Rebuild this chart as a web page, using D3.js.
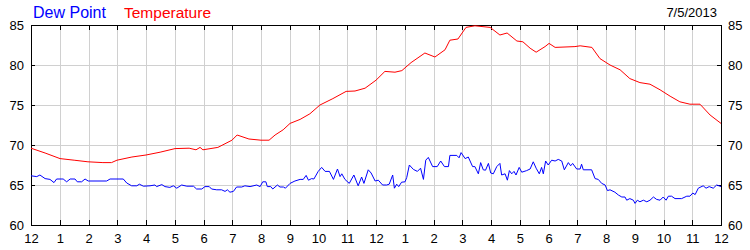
<!DOCTYPE html>
<html>
<head>
<meta charset="utf-8">
<script src="https://cdn.jsdelivr.net/npm/d3@7"></script>
<style>
  body { margin: 0; background: #fff; }
  svg text { font-family: "Liberation Sans", Arial, sans-serif; }
</style>
</head>
<body>
<div id="chart"></div>
<script>
// hours since midnight
const tempHours = [0, 0.49, 1.01, 1.5, 1.98, 2.5, 2.8, 2.99, 3.51, 4.0, 4.49, 5.01, 5.5, 5.74, 5.88, 5.98, 6.5, 6.99, 7.17, 7.58, 8.0, 8.28, 8.49, 8.77, 9.01, 9.36, 9.70, 10.05, 10.5, 10.96, 11.27, 11.62, 12.0, 12.31, 12.66, 12.9, 13.22, 13.7, 14.05, 14.4, 14.57, 14.85, 15.13, 15.44, 15.97, 16.31, 16.56, 16.9, 17.11, 17.36, 17.57, 17.88, 18.02, 18.23, 18.92, 19.1, 19.51, 19.79, 20.14, 20.49, 20.83, 21.18, 21.53, 21.88, 22.23, 22.57, 22.92, 23.27, 23.62, 24];
const tempValues = [69.6, 69.0, 68.3, 68.1, 67.9, 67.8, 67.8, 68.1, 68.5, 68.75, 69.1, 69.55, 69.6, 69.4, 69.7, 69.4, 69.7, 70.6, 71.25, 70.75, 70.6, 70.6, 71.25, 71.9, 72.7, 73.2, 73.9, 75.0, 75.8, 76.7, 76.75, 77.1, 78.1, 79.2, 79.1, 79.3, 80.3, 81.5, 81.0, 81.9, 83.1, 83.25, 84.7, 84.9, 84.7, 83.75, 84.0, 83.0, 82.9, 82.1, 81.6, 82.3, 82.7, 82.2, 82.3, 82.4, 82.2, 80.8, 80.0, 79.4, 78.3, 77.8, 77.6, 76.9, 76.1, 75.4, 75.1, 75.1, 73.75, 72.7];

const dewHours = [0, 0.2, 0.31, 0.49, 0.66, 0.8, 0.89, 1.12, 1.24, 1.36, 1.53, 1.61, 1.76, 1.88, 1.99, 2.63, 2.75, 3.21, 3.33, 3.5, 3.68, 3.77, 3.91, 4.14, 4.31, 4.37, 4.55, 4.66, 4.83, 4.95, 5.07, 5.24, 5.42, 5.65, 5.76, 5.94, 6.05, 6.2, 6.28, 6.46, 6.63, 6.75, 6.83, 6.92, 7.04, 7.15, 7.33, 7.44,
  7.62, 7.85, 7.97, 8.06, 8.17, 8.22, 8.34, 8.41, 8.57, 8.66, 8.78, 8.85, 9.01, 9.18, 9.36, 9.47, 9.57, 9.65, 9.76, 9.84, 9.99, 10.11, 10.23, 10.38, 10.52, 10.66, 10.75, 10.81, 10.92, 11.07, 11.23, 11.38, 11.5, 11.58, 11.73, 11.83, 11.97, 12.08, 12.23, 12.37, 12.46, 12.58, 12.64, 12.72, 12.79, 12.89, 13.01, 13.07, 13.16, 13.3, 13.44, 13.55, 13.65, 13.73, 13.82, 13.97, 14.13, 14.25, 14.38, 14.52, 14.57, 14.81, 14.89, 14.96, 15.1, 15.21, 15.36, 15.44, 15.56, 15.64, 15.73, 15.81, 15.91, 15.99, 16.08, 16.2,
  16.31, 16.37, 16.49, 16.57, 16.64, 16.72, 16.8, 16.87, 16.98, 17.07, 17.24, 17.36, 17.47, 17.57, 17.68, 17.76, 17.82, 17.9, 17.99, 18.11, 18.23, 18.34, 18.46, 18.55, 18.69, 18.77, 18.84, 18.98, 19.1, 19.15, 19.21, 19.5, 19.62, 19.73, 19.85, 19.97, 20.05, 20.14, 20.31, 20.43, 20.55, 20.66, 20.72, 20.83, 20.95, 21.01, 21.09, 21.18, 21.3, 21.42, 21.53, 21.65, 21.76, 21.88, 21.99, 22.09, 22.17, 22.28, 22.4, 22.63, 22.81, 22.92, 23.02, 23.1, 23.21, 23.38, 23.48, 23.59, 23.73, 23.85, 24];
const dewValues = [66.15, 66.05, 66.25, 65.8, 65.7, 65.3, 65.75, 65.75, 65.4, 65.75, 65.75, 65.4, 65.4, 65.75, 65.5, 65.5, 65.75, 65.75, 65.25, 64.9, 64.9, 65.1, 64.85, 64.9, 65.0, 64.8, 65.05, 64.8, 64.7, 64.9, 64.6, 65.0, 64.85, 64.85, 64.5, 64.5, 64.8, 64.8, 64.5, 64.4, 64.4, 64.2, 64.4, 64.1, 64.2, 64.75, 64.75, 64.9,
  64.8, 65.0, 64.8, 65.4, 65.4, 64.8, 64.8, 64.5, 65.0, 64.75, 64.75, 64.6, 65.2, 65.5, 65.7, 65.7, 66.2, 65.6, 65.8, 65.75, 66.7, 67.2, 66.7, 66.7, 65.7, 67.0, 66.05, 66.4, 65.7, 65.2, 66.25, 64.9, 66.0, 65.2, 66.9, 66.5, 65.5, 65.6, 65.0, 65.0, 65.1, 66.25, 64.6, 65.1, 64.8, 65.35, 65.4, 65.95, 67.5, 66.95, 66.7, 67.1, 65.7, 68.1, 68.45, 67.3, 67.3, 68.0, 67.3, 67.3, 68.7, 68.7, 68.4, 69.05, 68.3, 68.5, 67.3, 67.3, 66.4, 67.8, 66.9, 66.85, 67.7, 66.5, 66.4, 67.3,
  67.7, 66.25, 66.4, 65.6, 66.8, 66.4, 66.7, 66.25, 67.2, 66.6, 66.8, 67.0, 67.9, 67.1, 66.4, 67.2, 66.4, 68.0, 67.5, 68.1, 68.0, 68.2, 68.0, 66.9, 67.8, 67.4, 67.7, 67.0, 67.0, 67.6, 66.9, 66.9, 65.8, 65.7, 65.2, 65.0, 64.3, 64.4, 64.1, 63.75, 63.5, 63.5, 63.1, 63.3, 63.1, 62.7, 63.1, 62.9, 63.1, 62.9, 63.1, 63.5, 63.2, 63.1, 63.5, 63.1, 63.6, 63.6, 63.3, 63.3, 63.6, 63.6, 64.0, 63.8, 64.6, 64.9, 64.6, 64.8, 64.6, 65.0, 64.8];

const hourTicks = d3.range(0, 25);
const hourLabels = ["12", "1", "2", "3", "4", "5", "6", "7", "8", "9", "10", "11", "12", "1", "2", "3", "4", "5", "6", "7", "8", "9", "10", "11", "12"];
const yTicks = [60, 65, 70, 75, 80, 85];
const dateLabel = "7/5/2013";

const W = 750, H = 250;
const margin = {top: 25, right: 29, bottom: 25, left: 31};
const width = W - margin.left - margin.right;
const height = H - margin.top - margin.bottom;

const svg = d3.select("#chart").append("svg")
    .attr("width", W)
    .attr("height", H);

const g = svg.append("g")
    .attr("transform", "translate(" + margin.left + "," + margin.top + ")");

const x = d3.scaleLinear().domain([0, 24]).range([0, width]);
const y = d3.scaleLinear().domain([60, 85]).range([height, 0]);

// grid lines
g.append("g")
    .selectAll("line")
    .data(hourTicks.slice(1, -1))
    .join("line")
    .attr("x1", d => Math.round(x(d)) + 0.5)
    .attr("x2", d => Math.round(x(d)) + 0.5)
    .attr("y1", 0)
    .attr("y2", height)
    .attr("stroke", "#d0d0d0");

g.append("g")
    .selectAll("line")
    .data(yTicks.slice(1, -1))
    .join("line")
    .attr("x1", 0)
    .attr("x2", width)
    .attr("y1", d => Math.round(y(d)) + 0.5)
    .attr("y2", d => Math.round(y(d)) + 0.5)
    .attr("stroke", "#d0d0d0");

// bottom axis with labels
const xAxis = d3.axisBottom(x)
    .tickValues(hourTicks)
    .tickSize(0)
    .tickPadding(9)
    .tickFormat((d, i) => hourLabels[i]);

const xg = g.append("g")
    .attr("transform", "translate(0," + height + ")")
    .call(xAxis);
xg.select(".domain").remove();
xg.selectAll("text").attr("font-size", 13).attr("fill", "#000").attr("font-family", "Liberation Sans, Arial, sans-serif");

// left and right axis labels
const yl = g.append("g").call(d3.axisLeft(y).tickValues(yTicks).tickSize(0).tickPadding(7));
yl.select(".domain").remove();
yl.selectAll("text").attr("font-size", 13).attr("fill", "#000").attr("font-family", "Liberation Sans, Arial, sans-serif");

const yr = g.append("g")
    .attr("transform", "translate(" + width + ",0)")
    .call(d3.axisRight(y).tickValues(yTicks).tickSize(0).tickPadding(7));
yr.select(".domain").remove();
yr.selectAll("text").attr("font-size", 13).attr("fill", "#000").attr("font-family", "Liberation Sans, Arial, sans-serif");

// inward black tick marks
const tickG = g.append("g").attr("stroke", "#000");
tickG.append("g").selectAll("line")
    .data(hourTicks)
    .join("line")
    .attr("x1", d => Math.round(x(d)) + 0.5)
    .attr("x2", d => Math.round(x(d)) + 0.5)
    .attr("y1", 0)
    .attr("y2", 5);
tickG.append("g").selectAll("line")
    .data(hourTicks)
    .join("line")
    .attr("x1", d => Math.round(x(d)) + 0.5)
    .attr("x2", d => Math.round(x(d)) + 0.5)
    .attr("y1", height - 5)
    .attr("y2", height);
tickG.append("g").selectAll("line")
    .data(yTicks)
    .join("line")
    .attr("x1", 0)
    .attr("x2", 4)
    .attr("y1", d => Math.round(y(d)) + 0.5)
    .attr("y2", d => Math.round(y(d)) + 0.5);
tickG.append("g").selectAll("line")
    .data(yTicks)
    .join("line")
    .attr("x1", width - 4)
    .attr("x2", width)
    .attr("y1", d => Math.round(y(d)) + 0.5)
    .attr("y2", d => Math.round(y(d)) + 0.5);

// frame
g.append("rect")
    .attr("x", 0.5)
    .attr("y", 0.5)
    .attr("width", width)
    .attr("height", height)
    .attr("fill", "none")
    .attr("stroke", "#000");

// lines
const line = d3.line()
    .x(d => x(d[0]))
    .y(d => y(d[1]));

g.append("path")
    .datum(tempHours.map((h, i) => [h, tempValues[i]]))
    .attr("fill", "none")
    .attr("stroke", "#ff0000")
    .attr("stroke-width", 1)
    .attr("d", line);

g.append("path")
    .datum(dewHours.map((h, i) => [h, dewValues[i]]))
    .attr("fill", "none")
    .attr("stroke", "#0000ff")
    .attr("stroke-width", 1)
    .attr("d", line);

// legend and date
svg.append("text")
    .attr("x", 33)
    .attr("y", 18)
    .attr("font-size", 16)
    .attr("fill", "#0000ff")
    .text("Dew Point");

svg.append("text")
    .attr("x", 124)
    .attr("y", 18)
    .attr("font-size", 15.5)
    .attr("fill", "#ff0000")
    .text("Temperature");

svg.append("text")
    .attr("x", 717)
    .attr("y", 17)
    .attr("text-anchor", "end")
    .attr("font-size", 13)
    .attr("fill", "#000")
    .text(dateLabel);
</script>
</body>
</html>
